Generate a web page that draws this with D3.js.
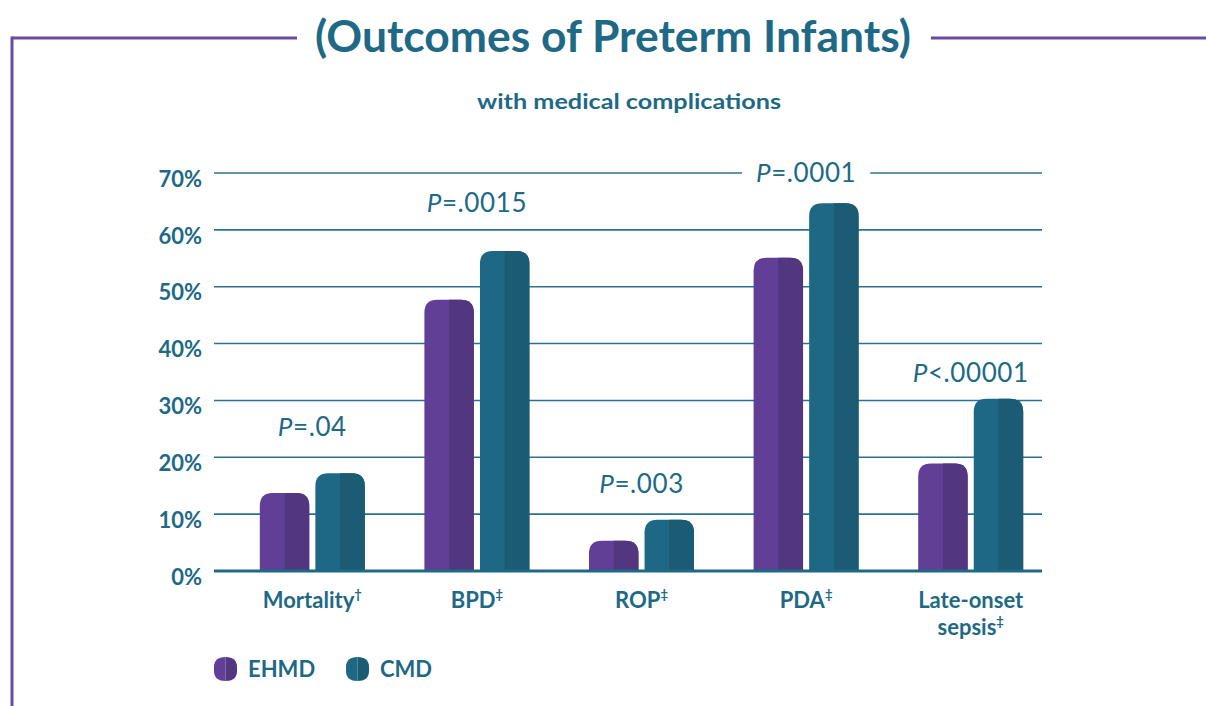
<!DOCTYPE html>
<html>
<head>
<meta charset="utf-8">
<script src="https://cdn.jsdelivr.net/npm/d3@7"></script>
<style>
  body { margin: 0; background: #fff; }
  svg { display: block; }
  text { font-family: Lato, "Open Sans", sans-serif; }
</style>
</head>
<body>
<svg width="1206" height="706"></svg>
<script>
// chart data
var categories = ["Mortality", "BPD", "ROP", "PDA", "Late-onset sepsis"];
var marks = ["\u2020", "\u2021", "\u2021", "\u2021", "\u2021"];
var series = ["EHMD", "CMD"];
var ehmd = [13.7, 47.7, 5.3, 55.1, 18.9];
var cmd = [17.2, 56.3, 9.0, 64.7, 30.3];
var pLabels = ["=.04", "=.0015", "=.003", "=.0001", "<.00001"];
var pValuesAt = [23.7, 63.2, 13.7, 68.5, 33.3]; // y position (in %) of p-value labels
var yTicks = [0, 10, 20, 30, 40, 50, 60, 70];

var teal = "#1e6985";
var colors = {
    EHMD: ["#623f97", "#523780"],
    CMD: ["#1f6885", "#1b5b74"]
};

var svg = d3.select("svg");

// frame + title
var frame = "#6a4aa3";
svg.append("line").attr("x1", 12).attr("x2", 297).attr("y1", 38).attr("y2", 38)
    .attr("stroke", frame).attr("stroke-width", 3);
svg.append("line").attr("x1", 931).attr("x2", 1206).attr("y1", 38).attr("y2", 38)
    .attr("stroke", frame).attr("stroke-width", 3);
svg.append("line").attr("x1", 12).attr("x2", 12).attr("y1", 36.5).attr("y2", 706)
    .attr("stroke", frame).attr("stroke-width", 3);

svg.append("text")
    .attr("x", 315).attr("y", 52)
    .attr("textLength", 596).attr("lengthAdjust", "spacingAndGlyphs")
    .attr("font-size", 43).attr("font-weight", 700).attr("fill", teal)
    .text("(Outcomes of Preterm Infants)");

svg.append("text")
    .attr("x", 477).attr("y", 109)
    .attr("textLength", 304).attr("lengthAdjust", "spacingAndGlyphs")
    .attr("font-size", 21).attr("font-weight", 700).attr("fill", teal)
    .text("with medical complications");

// scales
var y = d3.scaleLinear().domain([0, 70]).range([571, 173]);
var x = d3.scaleBand().domain(categories).range([230, 1053]).padding(0);
var step = x.bandwidth();
var xs = d3.scaleBand().domain(series)
    .range([(step - 105) / 2, (step + 105) / 2]).paddingInner(0.11).paddingOuter(0);

// gridlines
svg.append("g")
    .selectAll("line")
    .data(yTicks.filter(function (d) { return d > 0; }))
    .enter().append("line")
    .attr("x1", 214).attr("x2", 1042)
    .attr("y1", function (d) { return y(d); })
    .attr("y2", function (d) { return y(d); })
    .attr("stroke", "#2b7291").attr("stroke-width", 1.6);

// y axis labels
var yAxis = svg.append("g")
    .attr("transform", "translate(202,0)")
    .call(d3.axisLeft(y).tickValues(yTicks).tickSize(0).tickPadding(0)
        .tickFormat(function (d) { return d + "%"; }));
yAxis.select(".domain").remove();
yAxis.selectAll("text")
    .attr("font-family", "Lato, sans-serif")
    .attr("font-size", 22).attr("font-weight", 700).attr("fill", teal)
    .attr("dy", "0.6em");

// bars
var r = 13;
function barPath(x0, w, top, bottom, left, right) {
    var rl = left ? Math.min(r, bottom - top) : 0;
    var rr = right ? Math.min(r, bottom - top) : 0;
    return "M" + x0 + "," + bottom +
        "V" + (top + rl) +
        (rl ? "Q" + x0 + "," + top + " " + (x0 + rl) + "," + top : "") +
        "H" + (x0 + w - rr) +
        (rr ? "Q" + (x0 + w) + "," + top + " " + (x0 + w) + "," + (top + rr) : "") +
        "V" + bottom + "Z";
}

var rows = [];
categories.forEach(function (c, i) {
    rows.push({ cat: c, s: "EHMD", v: ehmd[i] });
    rows.push({ cat: c, s: "CMD", v: cmd[i] });
});

var bars = svg.append("g").selectAll("g").data(rows).enter().append("g");
bars.append("path")
    .attr("d", function (d) {
        var x0 = x(d.cat) + xs(d.s), w = xs.bandwidth();
        return barPath(x0, w, y(d.v), y(0), true, true);
    })
    .attr("fill", function (d) { return colors[d.s][0]; });
bars.append("path")
    .attr("d", function (d) {
        var x0 = x(d.cat) + xs(d.s), w = xs.bandwidth();
        return barPath(x0 + w / 2, w / 2, y(d.v), y(0), false, true);
    })
    .attr("fill", function (d) { return colors[d.s][1]; });

// baseline
svg.append("line").attr("x1", 214).attr("x2", 1042).attr("y1", y(0)).attr("y2", y(0))
    .attr("stroke", teal).attr("stroke-width", 3);

// p-value labels
var pg = svg.append("g").selectAll("g").data(categories).enter().append("g");
pg.each(function (c, i) {
    var g = d3.select(this);
    var t = g.append("text")
        .attr("x", x(c) + step / 2).attr("y", y(pValuesAt[i]))
        .attr("text-anchor", "middle")
        .attr("font-size", 26).attr("font-weight", 400).attr("fill", teal)
        .attr("letter-spacing", 0.6);
    t.append("tspan").attr("font-style", "italic").text("P");
    t.append("tspan").text(pLabels[i]);
    var bb = t.node().getBBox();
    g.insert("rect", "text")
        .attr("x", bb.x - 14).attr("y", bb.y).attr("width", bb.width + 28).attr("height", bb.height)
        .attr("fill", "#fff");
});

// category labels
var xl = svg.append("g").selectAll("text").data(categories).enter().append("text")
    .attr("x", function (d) { return x(d) + step / 2; })
    .attr("y", 608)
    .attr("text-anchor", "middle")
    .attr("font-size", 22).attr("font-weight", 700).attr("fill", teal);
xl.each(function (d, i) {
    var t = d3.select(this);
    var words = d === "Late-onset sepsis" ? ["Late-onset", "sepsis"] : [d];
    words.forEach(function (w, j) {
        t.append("tspan").attr("x", x(d) + step / 2).attr("dy", j ? 27 : 0).text(w);
        if (j === words.length - 1) {
            t.append("tspan").attr("font-size", 13).attr("dy", -9).text(marks[i]);
        }
    });
});

// legend
var legend = svg.append("g").selectAll("g").data(series).enter().append("g")
    .attr("transform", function (d, i) { return "translate(" + (214 + i * 132) + ",657)"; });
legend.append("path")
    .attr("d", "M11.5,0 Q0,0 0,10 V14 Q0,24 11.5,24 Z")
    .attr("fill", function (d) { return colors[d][0]; });
legend.append("path")
    .attr("d", "M11.5,0 Q23,0 23,10 V14 Q23,24 11.5,24 Z")
    .attr("fill", function (d) { return colors[d][1]; });
legend.append("text")
    .attr("x", 34).attr("y", 19.5)
    .attr("font-size", 22).attr("font-weight", 700).attr("fill", teal)
    .text(function (d) { return d; });
</script>
</body>
</html>
